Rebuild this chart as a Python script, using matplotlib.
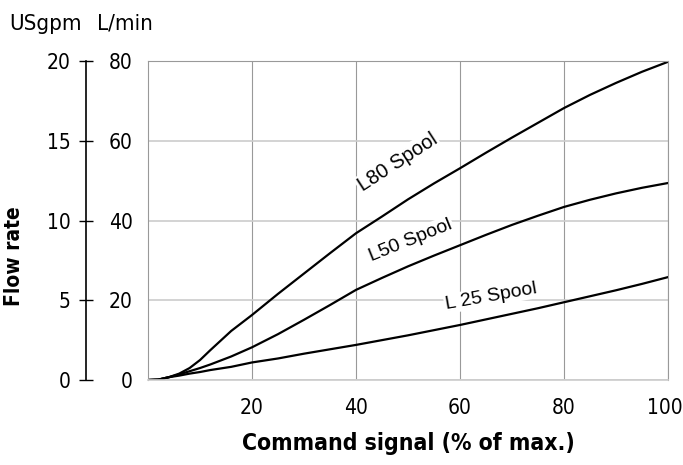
import numpy as np
import matplotlib.pyplot as plt
import matplotlib.transforms as mtransforms
from matplotlib import font_manager

# command signal (% of max) and flow rate (L/min)
signal = [0, 2, 4, 6, 8, 10, 12, 14, 16, 20, 25, 30, 35, 40, 45, 50, 55, 60, 65, 70, 75, 80, 85, 90, 95, 100]
l80 = [0, 0.1, 0.7, 1.6, 3.0, 5.0, 7.5, 9.9, 12.3, 16.3, 21.6, 26.7, 31.8, 36.8, 41.0, 45.3, 49.3, 53.1, 57.0, 60.8, 64.5, 68.2, 71.5, 74.5, 77.3, 79.8]
l50 = [0, 0.1, 0.7, 1.4, 2.2, 3.0, 3.9, 4.9, 5.9, 8.2, 11.5, 15.1, 18.8, 22.6, 25.6, 28.5, 31.2, 33.8, 36.4, 38.9, 41.2, 43.4, 45.2, 46.8, 48.2, 49.4]
l25 = [0, 0.1, 0.7, 1.1, 1.6, 2.0, 2.5, 2.9, 3.3, 4.4, 5.4, 6.6, 7.7, 8.8, 10.0, 11.2, 12.5, 13.8, 15.2, 16.6, 18.0, 19.5, 21.0, 22.5, 24.1, 25.8]

lpm_ticks = [0, 20, 40, 60, 80]
gpm_ticks = [0, 5, 10, 15, 20]
x_ticks = [20, 40, 60, 80, 100]

names = {f.name for f in font_manager.fontManager.ttflist}
if "Liberation Sans Narrow" in names:
    nfont = dict(family="Liberation Sans Narrow")
else:
    nfont = dict(family="DejaVu Sans", stretch="condensed")

fig = plt.figure(figsize=(6.83, 4.65), dpi=100)
ax = fig.add_axes([0.2167, 0.1828, 0.7613, 0.686])

for ys in (l80, l50, l25):
    ax.plot(signal, ys, color="black", lw=1.6)

ax.set_xlim(0, 100)
ax.set_ylim(0, 80)
ax.set_xticks(x_ticks)
ax.set_yticks(lpm_ticks)
ax.set_xticklabels([str(v) for v in x_ticks], fontsize=15, **nfont)
ax.set_yticklabels([str(v) for v in lpm_ticks], fontsize=15, **nfont)
ax.tick_params(length=0, pad=11)
ax.tick_params(axis="x", pad=13)
# nudge "100" a little so it stays inside the figure
last = ax.get_xticklabels()[-1]
last.set_transform(last.get_transform() + mtransforms.ScaledTranslation(-3 / 100, 0, fig.dpi_scale_trans))

ax.grid(axis="x", color="#999999", lw=0.8)
ax.grid(axis="y", color="#cccccc", lw=1.2)
for s in ax.spines.values():
    s.set_color("#999999")
    s.set_linewidth(0.8)
ax.spines["bottom"].set_color("#cccccc")
ax.spines["bottom"].set_linewidth(1.2)

# curve labels with white box so the grid breaks behind them
box = dict(facecolor="white", edgecolor="none", pad=1)
ax.text(48, 54.5, "L80 Spool", rotation=33, fontsize=14.5, family="Liberation Sans",
        ha="center", va="center", bbox=box)
ax.text(50.5, 35.0, "L50 Spool", rotation=22, fontsize=14, family="Liberation Sans",
        ha="center", va="center", bbox=box)
ax.text(66, 21.0, "L 25 Spool", rotation=10, fontsize=14, family="Liberation Sans",
        ha="center", va="center", bbox=box)

ax.set_xlabel("Command signal (% of max.)", fontsize=16.5, fontweight="bold",
              labelpad=10, **nfont)

# outer USgpm axis
ax2 = fig.add_axes([0.1255, 0.1828, 0.001, 0.686])
ax2.set_ylim(0, 20)
ax2.set_yticks(gpm_ticks)
ax2.set_yticklabels([str(v) for v in gpm_ticks], fontsize=15, **nfont)
ax2.set_xticks([])
for side in ["top", "right", "bottom"]:
    ax2.spines[side].set_visible(False)
ax2.spines["left"].set_linewidth(1.2)
ax2.tick_params(axis="y", direction="inout", length=10, width=1.0, pad=6)

fig.text(0.021, 0.449, "Flow rate", rotation=90, fontsize=15, fontweight="bold",
         ha="center", va="center", **nfont)
fig.text(0.014, 0.97, "USgpm", fontsize=16, ha="left", va="top", **nfont)
fig.text(0.142, 0.97, "L/min", fontsize=16, ha="left", va="top", **nfont)

fig.savefig("out.png", dpi=100)
